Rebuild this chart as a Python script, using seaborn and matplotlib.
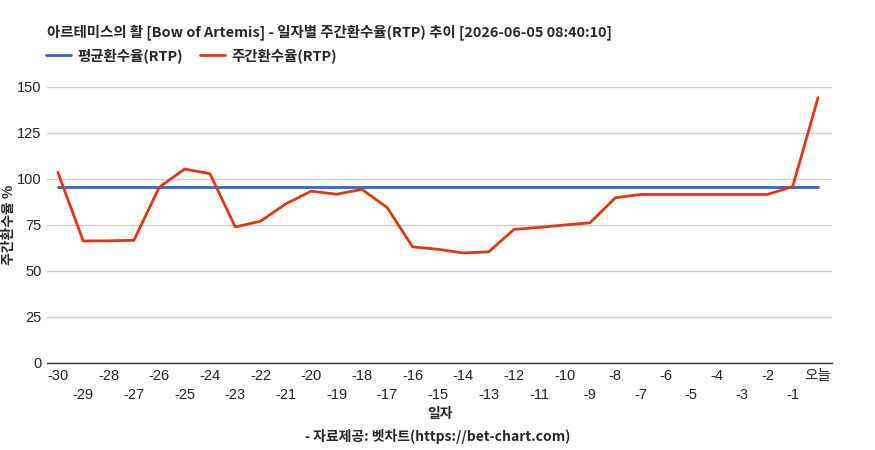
import pandas as pd
import seaborn as sns
import matplotlib.pyplot as plt

days = [str(d) for d in range(-30, 0)] + ['오늘']
weekly_rtp = [103.6, 66.3, 66.4, 66.7, 95.5, 105.4, 102.9, 73.9, 77.1, 86.5,
              93.4, 91.7, 94.4, 84.4, 63.1, 61.8, 59.8, 60.4, 72.6, 73.7,
              75.0, 76.2, 89.8, 91.6, 91.6, 91.6, 91.6, 91.6, 91.6, 95.9,
              144.2]
avg_rtp = [95.9] * len(days)
y_ticks = [0, 25, 50, 75, 100, 125, 150]

title = '아르테미스의 활 [Bow of Artemis] - 일자별 주간환수율(RTP) 추이 [2026-06-05 08:40:10]'
avg_name = '평균환수율(RTP)'
weekly_name = '주간환수율(RTP)'


def main():
    sns.set_theme(style='white')
    plt.rcParams['font.family'] = ['Noto Sans CJK KR', 'DejaVu Sans']

    df = pd.DataFrame({
        'idx': list(range(len(days))) * 2,
        'value': avg_rtp + weekly_rtp,
        'series': [avg_name] * len(days) + [weekly_name] * len(days),
    })

    fig = plt.figure(figsize=(8.75, 4.5), dpi=100)
    ax = fig.add_axes([47 / 875, 1 - 363 / 450, (832 - 47) / 875, (363 - 87) / 450])

    sns.lineplot(data=df, x='idx', y='value', hue='series',
                 palette={avg_name: '#3366CC', weekly_name: '#DC3912'},
                 linewidth=2, ax=ax, legend=False)

    tick_font = ['Liberation Sans Narrow', 'Liberation Sans', 'Noto Sans CJK KR']
    ax.set_xlim(-0.43, len(days) - 1 + 0.55)
    ax.set_ylim(0, 150)
    ax.set_yticks(y_ticks)
    ax.set_yticklabels([str(t) for t in y_ticks], fontsize=10.5, color='#222222',
                       family=tick_font)
    ax.grid(axis='y', color='#cccccc', linewidth=1)
    ax.set_axisbelow(True)

    labels = [d if i % 2 == 0 else '\n' + d for i, d in enumerate(days)]
    ax.set_xticks(range(len(days)))
    ax.set_xticklabels(labels, fontsize=10.5, color='#222222', linespacing=1.45,
                       family=tick_font)
    ax.tick_params(length=0, pad=4)

    for s in ['top', 'right', 'left']:
        ax.spines[s].set_visible(False)
    ax.spines['bottom'].set_color('#333333')
    ax.spines['bottom'].set_linewidth(1)

    ax.set_xlabel('일자', fontsize=10, fontweight='bold')
    ax.xaxis.set_label_coords(0.5, (363 - 414) / 276, transform=ax.transAxes)
    ax.xaxis.label.set_va('center')
    ax.set_ylabel('주간환수율 %', fontsize=10, fontweight='bold')
    ax.yaxis.set_label_coords((9 - 47) / 785, (363 - 225) / 276, transform=ax.transAxes)
    ax.yaxis.label.set_va('center')

    fig.text(47 / 875, 1 - 32 / 450, title, fontsize=10.4, fontweight='bold',
             va='center', ha='left')
    fig.text(0.5, 1 - 436 / 450, '- 자료제공: 벳차트(https://bet-chart.com)',
             fontsize=10, fontweight='bold', ha='center', va='center')

    handles = [plt.Line2D([], [], color='#3366CC', linewidth=2),
               plt.Line2D([], [], color='#DC3912', linewidth=2)]
    fig.legend(handles, [avg_name, weekly_name], loc='center left',
               bbox_to_anchor=(33 / 875, 1 - 56 / 450), ncol=2, frameon=False,
               handlelength=1.75, handletextpad=0.4, columnspacing=1.2,
               prop={'size': 10.4, 'weight': 'bold'})

    fig.savefig('out.png', dpi=100)


if __name__ == "__main__":
    main()
